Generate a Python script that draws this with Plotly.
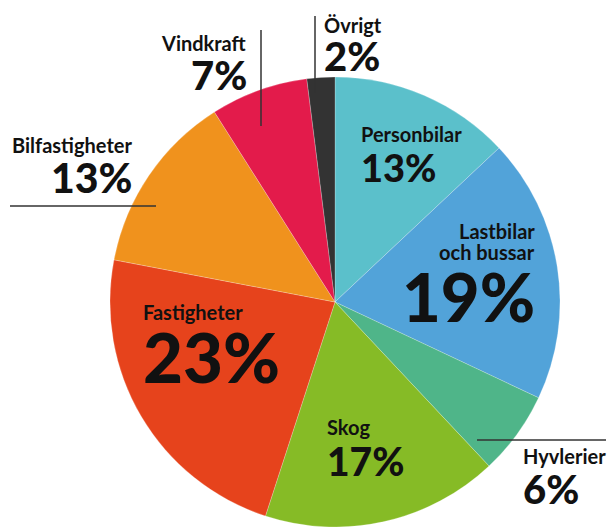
import plotly.graph_objects as go

W, H = 611, 527

labels = ["Personbilar", "Lastbilar och bussar", "Hyvlerier", "Skog",
          "Fastigheter", "Bilfastigheter", "Vindkraft", "Övrigt"]
values = [13, 19, 6, 17, 23, 13, 7, 2]
colors = ["#5BC0CB", "#52A3D9", "#4FB589", "#86BB26",
          "#E6431C", "#F0921D", "#E31B4B", "#333333"]

fig = go.Figure(go.Pie(
    labels=labels, values=values, sort=False, direction="clockwise", rotation=0,
    marker=dict(colors=colors, line=dict(width=0.5, color="rgba(255,255,255,0.45)")),
    textinfo="none", hoverinfo="label+percent", showlegend=False,
    domain=dict(x=[110 / W, 560 / W], y=[0, 450 / H]),
))

FONT = "Lato"

def px(x):
    return x / W

def py(y):
    return 1 - y / H

def label(text, x, yc, size, anchor, weight=700):
    fig.add_annotation(text=text, x=px(x), y=py(yc), xref="paper", yref="paper",
                       xanchor=anchor, yanchor="middle", showarrow=False,
                       font=dict(family=FONT, size=size, color="#111111", weight=weight),
                       borderpad=0)

NAME = 20
# (name lines with center y, x, number center y, number size, anchor)
layout_spec = {
    "Personbilar": ([("Personbilar", 134)], 360, 167, 38, "left"),
    "Lastbilar och bussar": ([("Lastbilar", 231.5), ("och bussar", 251.5)], 536, 296, 67, "right"),
    "Hyvlerier": ([("Hyvlerier", 455.5)], 522, 489, 40, "left"),
    "Skog": ([("Skog", 426.5)], 326, 460.5, 39, "left"),
    "Fastigheter": ([("Fastigheter", 311.5)], 142, 356.5, 69, "left"),
    "Bilfastigheter": ([("Bilfastigheter", 144.5)], 133, 177.5, 41, "right"),
    "Vindkraft": ([("Vindkraft", 42.5)], 248, 75, 40, "right"),
    "Övrigt": ([("Övrigt", 25)], 323, 56, 40, "left"),
}

for lab, val in zip(labels, values):
    lines, x, ny, nsize, anchor = layout_spec[lab]
    for t, yc in lines:
        label(t, x, yc, NAME, anchor, 700)
    label(f"{val}%", x, ny, nsize, anchor, 900)

LINE = dict(color="#333333", width=1.5)
leaders = [((315, 16), (315, 93)), ((261, 30), (261, 126)),
           ((10, 206), (156, 206)), ((477, 440), (606, 440))]
for (x0, y0), (x1, y1) in leaders:
    fig.add_shape(type="line", xref="paper", yref="paper",
                  x0=px(x0), y0=py(y0), x1=px(x1), y1=py(y1), line=LINE)

fig.update_layout(width=W, height=H, margin=dict(l=0, r=0, t=0, b=0),
                  paper_bgcolor="white", plot_bgcolor="white")

fig.write_html("out.html", config={"displayModeBar": False},
               post_script="document.body.style.margin='0';document.body.style.overflow='hidden';")
